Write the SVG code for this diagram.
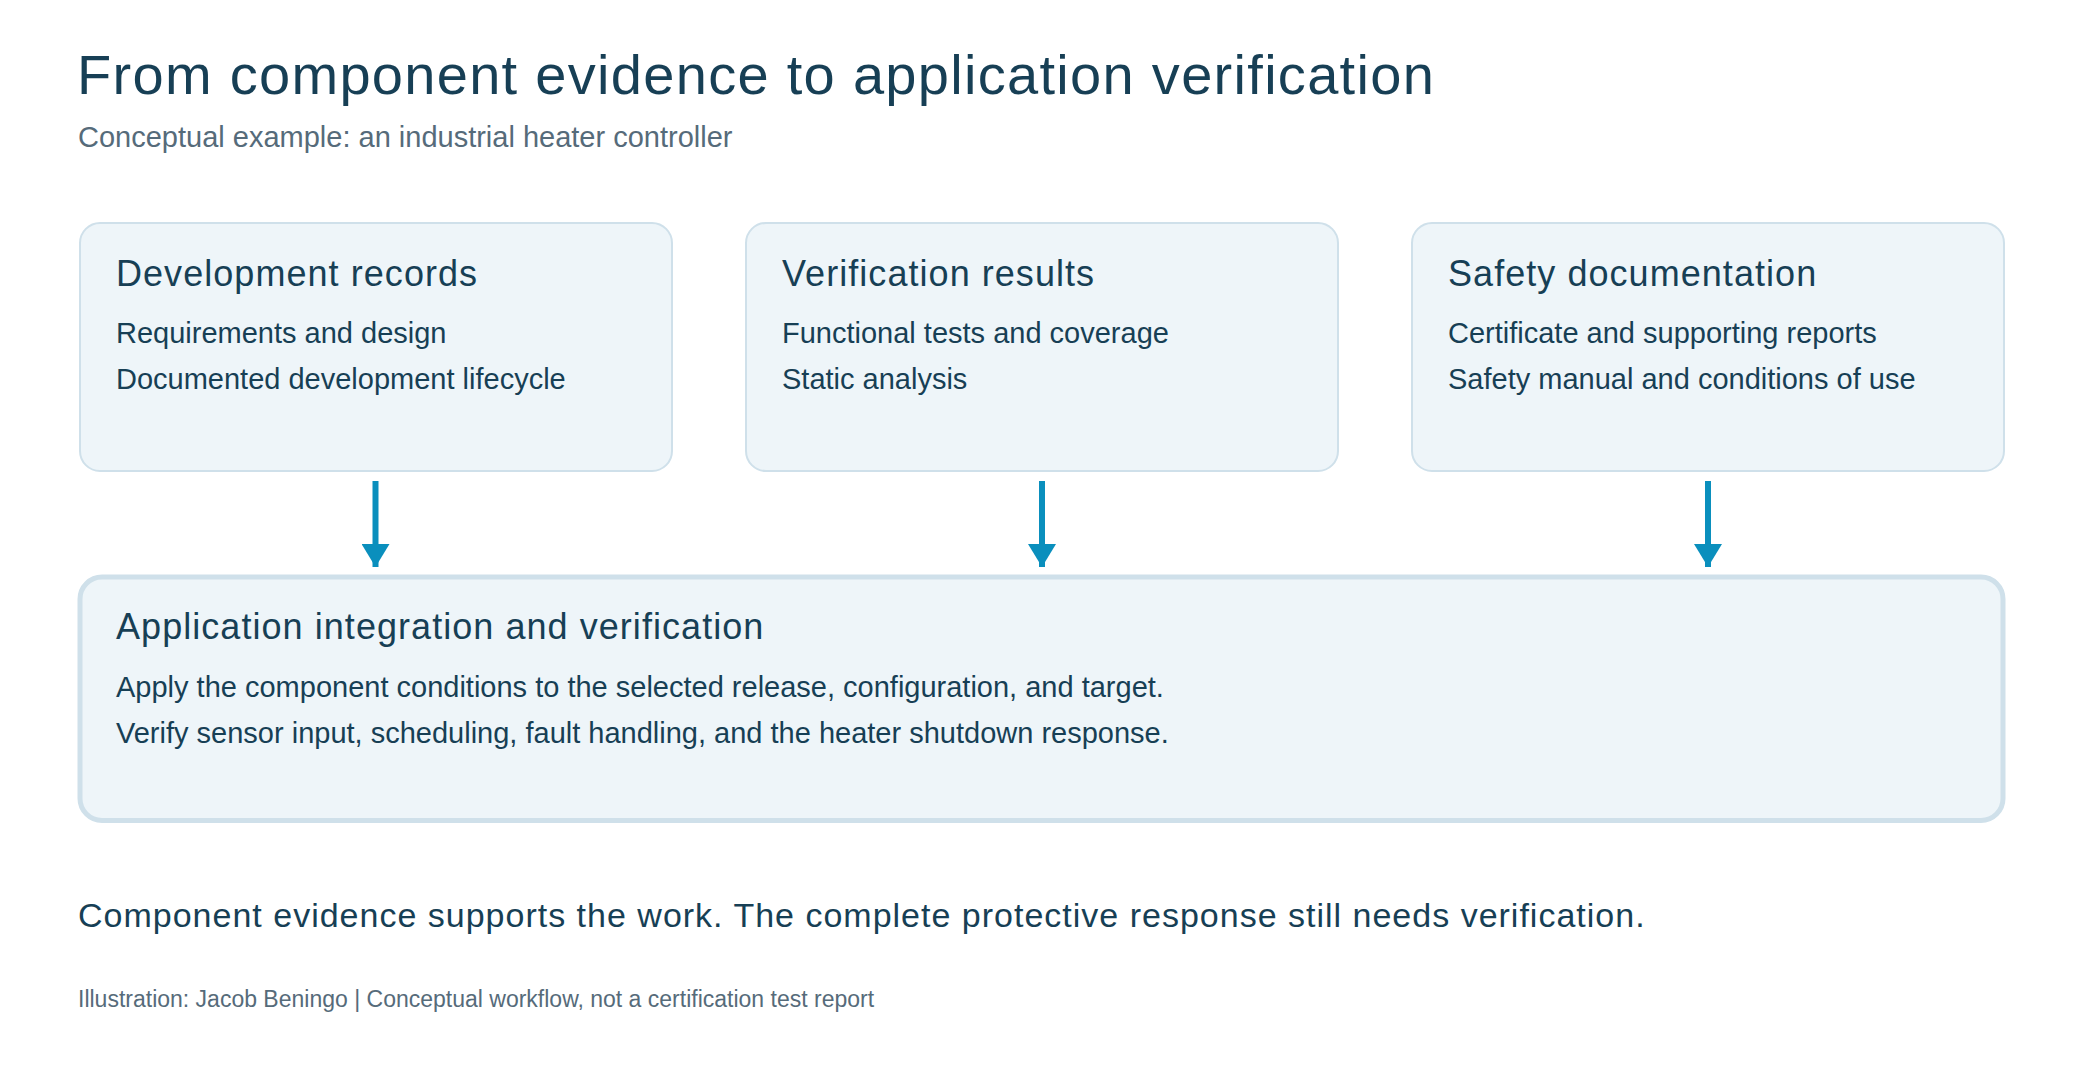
<svg xmlns="http://www.w3.org/2000/svg" width="2084" height="1084" viewBox="0 0 2084 1084">
  <defs>
    <style>
      text { font-family: "Liberation Sans", Arial, Helvetica, sans-serif; }
      .title { font-size: 56px; fill: #173f55; letter-spacing: 1.3px; }
      .subtitle { font-size: 29px; fill: #566b7a; }
      .card { fill: #eef5f9; stroke: #cfe0ea; stroke-width: 2; }
      .main { fill: #eef5f9; stroke: #cfe0ea; stroke-width: 5; }
      .head { font-size: 36px; fill: #173f55; letter-spacing: 1.05px; }
      .item { font-size: 29px; fill: #173f55; }
      .note { font-size: 34px; fill: #173f55; letter-spacing: 1px; }
      .credit { font-size: 23px; fill: #566b7a; }
      .conn { stroke: #0a8fbd; stroke-width: 6; fill: none; }
    </style>
    <marker id="ah" viewBox="0 0 23 28" refX="23" refY="14" markerWidth="23" markerHeight="28" markerUnits="userSpaceOnUse" orient="auto">
      <path d="M0,0 L23,14 L0,28 Z" fill="#0a8fbd"/>
    </marker>
  </defs>

  <rect width="2084" height="1084" fill="#ffffff"/>

  <g id="header">
    <text class="title" x="77" y="94">From component evidence to application verification</text>
    <text class="subtitle" x="78" y="147">Conceptual example: an industrial heater controller</text>
  </g>

  <g id="development-records">
    <rect class="card" x="80" y="223" width="592" height="248" rx="20"/>
    <text class="head" x="116" y="286">Development records</text>
    <text class="item" x="116" y="343">Requirements and design</text>
    <text class="item" x="116" y="389">Documented development lifecycle</text>
  </g>

  <g id="verification-results">
    <rect class="card" x="746" y="223" width="592" height="248" rx="20"/>
    <text class="head" x="782" y="286">Verification results</text>
    <text class="item" x="782" y="343">Functional tests and coverage</text>
    <text class="item" x="782" y="389">Static analysis</text>
  </g>

  <g id="safety-documentation">
    <rect class="card" x="1412" y="223" width="592" height="248" rx="20"/>
    <text class="head" x="1448" y="286">Safety documentation</text>
    <text class="item" x="1448" y="343">Certificate and supporting reports</text>
    <text class="item" x="1448" y="389">Safety manual and conditions of use</text>
  </g>

  <g id="connectors">
    <path class="conn" d="M375.5,481 L375.5,567" marker-end="url(#ah)"/>
    <path class="conn" d="M1042,481 L1042,567" marker-end="url(#ah)"/>
    <path class="conn" d="M1708,481 L1708,567" marker-end="url(#ah)"/>
  </g>

  <g id="application-integration">
    <rect class="main" x="80" y="577" width="1923" height="243.5" rx="22"/>
    <text class="head" x="116" y="639">Application integration and verification</text>
    <text class="item" x="116" y="697">Apply the component conditions to the selected release, configuration, and target.</text>
    <text class="item" x="116" y="743">Verify sensor input, scheduling, fault handling, and the heater shutdown response.</text>
  </g>

  <g id="footer">
    <text class="note" x="78" y="927">Component evidence supports the work. The complete protective response still needs verification.</text>
    <text class="credit" x="78" y="1007">Illustration: Jacob Beningo | Conceptual workflow, not a certification test report</text>
  </g>
</svg>
